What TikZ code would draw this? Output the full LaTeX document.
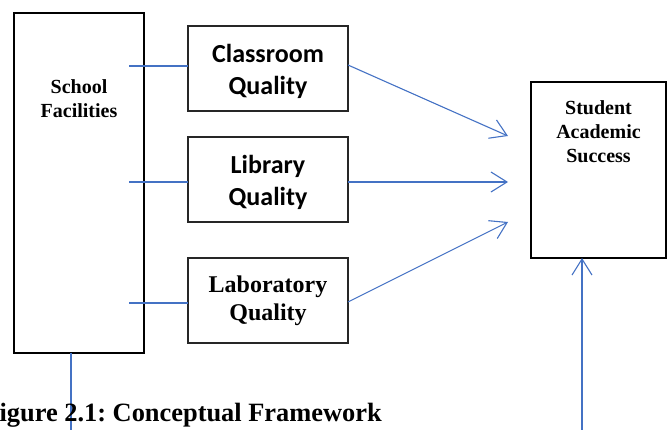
\documentclass[tikz,border=0pt]{standalone}
\usepackage{fontspec}
\setmainfont{Liberation Serif}
\newfontfamily\calibrilike{Carlito}
\usetikzlibrary{arrows.meta}
\definecolor{linkblue}{HTML}{4472C4}
\frenchspacing
\begin{document}
\begin{tikzpicture}[x=1pt,y=-1pt,
  heavybox/.style={draw=black,line width=1.8pt,inner sep=0pt,outer sep=0pt,anchor=north west},
  qualbox/.style={draw=black!85,line width=1.3pt,inner sep=0pt,outer sep=0pt,anchor=north west,
    minimum width=160pt,minimum height=85pt},
  link/.style={draw=linkblue,line width=1.1pt},
  arrowlink/.style={link,-{Straight Barb[length=16pt,width=20pt]}},
  serifbig/.style={font=\bfseries\fontsize{20}{24}\selectfont,align=center},
  sanslabel/.style={font=\calibrilike\bfseries\fontsize{26}{32}\selectfont,align=center},
  seriflabel/.style={font=\bfseries\fontsize{24}{28}\selectfont,align=center},
]
\useasboundingbox (0,0) rectangle (670,430);

% outer blocks
\node[heavybox,minimum width=130pt,minimum height=340pt] (sf) at (14,13) {};
\node[serifbig,anchor=base] (sflabel) at (79,118) {School\\Facilities};

\node[heavybox,minimum width=135pt,minimum height=176pt] (sas) at (531,82) {};
\node[serifbig,anchor=base] (saslabel) at (598.5,163) {Student\\Academic\\Success};

% quality blocks
\node[qualbox] (cq) at (188,26) {};
\node[qualbox] (lq) at (188,137) {};
\node[qualbox] (labq) at (188,258) {};
\node[sanslabel] (cqlabel) at ([yshift=-3pt]cq.center) {Classroom\\Quality};
\node[sanslabel] (lqlabel) at ([yshift=-3pt]lq.center) {Library\\Quality};
\node[seriflabel] (labqlabel) at (labq.center) {Laboratory\\Quality};

% connector ends
\coordinate (s1) at (129,66);
\coordinate (s2) at (129,182);
\coordinate (s3) at (129,303);
\coordinate (t1) at (508,136);
\coordinate (t2) at (508,182);
\coordinate (t3) at (508,222);
\coordinate (sfdown) at (71,432);
\coordinate (sasup) at (582,432);

% links from the facilities block
\draw[link] (s1) -- (cq.west |- s1);
\draw[link] (s2) -- (lq.west |- s2);
\draw[link] (s3) -- (labq.west |- s3);
\draw[link] (sf.south -| sfdown) -- (sfdown);

% arrows into the success block
\draw[arrowlink] (cq.east |- 0,65) -- (t1);
\draw[arrowlink] (lq.east |- t2) -- (t2);
\draw[arrowlink] (labq.east |- 0,302) -- (t3);
\draw[arrowlink] (sasup) -- (sas.south -| sasup);

% caption
\node[anchor=base east,inner sep=0pt,font=\bfseries\fontsize{26.4}{32}\selectfont] (caption) at (382,422) {Figure 2.1: Conceptual Framework};
\end{tikzpicture}
\end{document}
